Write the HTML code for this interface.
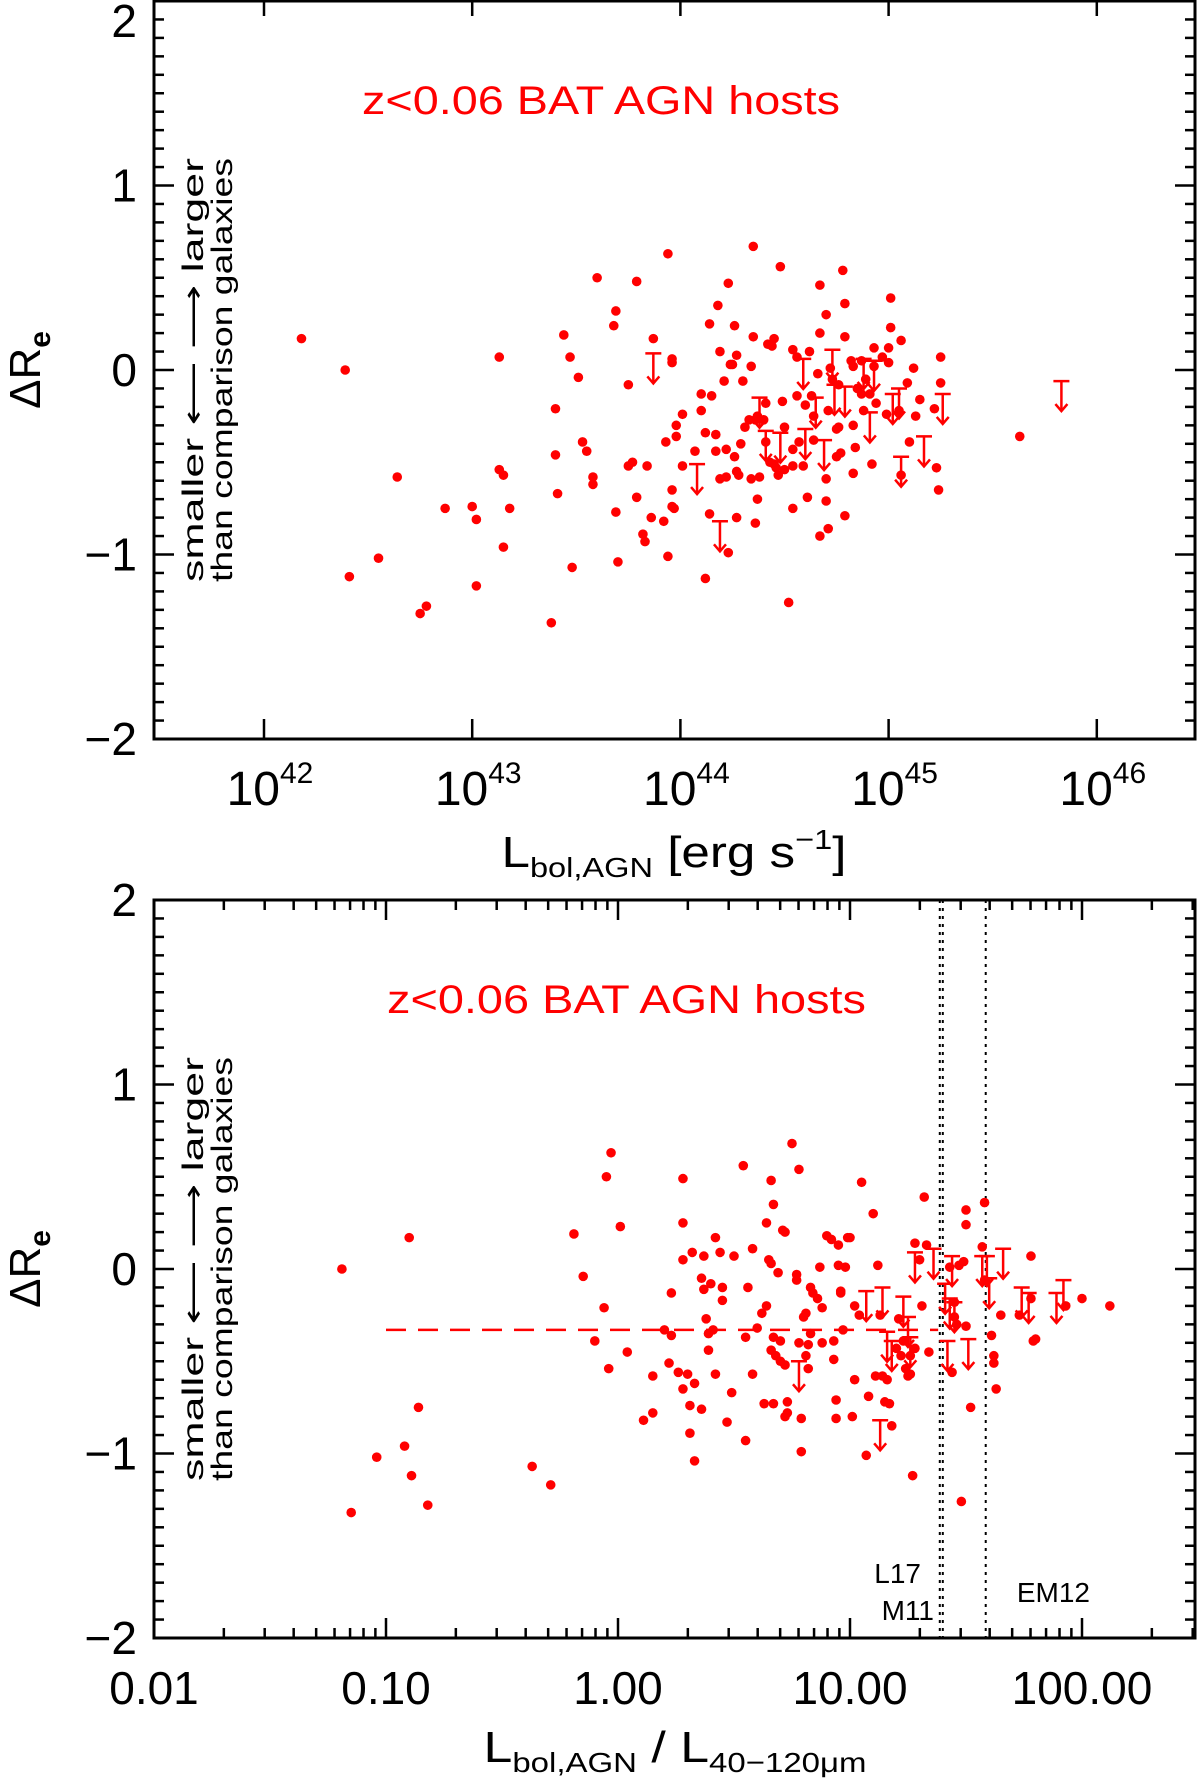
<!DOCTYPE html>
<html><head><meta charset="utf-8"><style>
html,body{margin:0;padding:0;background:#fff;}
svg{display:block;}
text{font-family:"Liberation Sans",sans-serif;}
</style></head><body>
<svg id="fig" width="1200" height="1779" viewBox="0 0 1200 1779" xmlns="http://www.w3.org/2000/svg"></svg>
<script>
// ===== Top panel data: log10 L_bol,AGN and Delta R_e =====
const topLogL = [42.18,42.39,42.41,42.55,42.64,42.75,42.78,42.87,43.00,43.02,43.02,43.13,43.13,43.15,43.15,43.18,43.38,43.40,43.40,43.41,43.44,43.47,43.51,43.48,43.53,43.55,43.58,43.58,43.60,43.68,43.69,43.69,43.70,43.75,43.75,43.77,43.79,43.79,43.82,43.83,43.84,43.86,43.87,43.92,43.93,43.94,43.94,43.96,43.96,43.96,43.96,43.97,43.98,43.98,44.01,44.01,44.07,44.10,44.10,44.12,44.12,44.14,44.14,44.15,44.17,44.17,44.18,44.19,44.19,44.21,44.22,44.22,44.23,44.24,44.23,44.25,44.26,44.26,44.27,44.27,44.27,44.28,44.29,44.30,44.31,44.33,44.34,44.34,44.35,44.35,44.36,44.36,44.37,44.37,44.38,44.40,44.41,44.41,44.42,44.43,44.44,44.45,44.45,44.46,44.47,44.48,44.49,44.50,44.50,44.52,44.54,44.54,44.54,44.54,44.56,44.56,44.57,44.59,44.60,44.61,44.62,44.63,44.64,44.64,44.66,44.67,44.67,44.67,44.70,44.70,44.70,44.71,44.71,44.72,44.73,44.75,44.75,44.76,44.76,44.77,44.78,44.79,44.79,44.79,44.82,44.83,44.83,44.83,44.84,44.85,44.87,44.87,44.88,44.89,44.91,44.92,44.93,44.93,44.94,44.97,44.99,45.00,45.00,45.01,45.01,45.05,45.06,45.06,45.09,45.10,45.12,45.13,45.15,45.22,45.23,45.24,45.25,45.25,45.63];
const topDRe = [0.17,0.00,-1.12,-1.02,-0.58,-1.32,-1.28,-0.75,-0.74,-0.81,-1.17,0.07,-0.54,-0.57,-0.96,-0.75,-1.37,-0.21,-0.46,-0.67,0.19,0.07,-0.04,-1.07,-0.39,-0.44,-0.58,-0.62,0.50,0.24,0.32,-0.77,-1.04,-0.08,-0.52,-0.50,0.48,-0.69,-0.89,-0.93,-0.52,-0.80,0.17,-0.82,-0.39,-1.01,0.63,0.06,0.04,-0.65,-0.74,-0.75,-0.30,-0.36,-0.52,-0.24,-0.44,-0.13,-0.22,-0.34,-1.13,0.25,-0.78,-0.14,-0.35,-0.44,0.35,0.10,-0.59,-0.06,-0.43,-0.58,0.47,0.03,-0.99,0.03,-0.47,0.24,-0.80,0.08,-0.55,-0.57,-0.40,-0.06,-0.31,-0.27,0.02,-0.59,0.67,0.18,-0.27,-0.83,-0.70,-0.25,-0.58,-0.27,-0.39,-0.18,0.14,-0.50,0.13,0.17,-0.51,-0.53,-0.57,0.56,-0.17,-0.31,-0.54,-1.26,-0.43,-0.52,0.11,-0.75,0.07,-0.14,-0.39,-0.52,-0.19,-0.69,0.10,-0.14,-0.25,-0.38,-0.02,-0.90,0.20,0.46,0.30,-0.71,-0.59,-0.86,-0.22,0.01,-0.05,-0.47,-0.32,-0.31,-0.08,-0.45,0.54,0.36,-0.79,0.18,0.05,0.02,-0.56,-0.30,-0.42,-0.10,0.05,-0.13,-0.22,-0.05,-0.13,-0.51,0.02,0.12,-0.18,0.07,-0.24,0.04,0.12,0.39,0.23,-0.22,0.16,-0.57,-0.07,-0.39,0.01,-0.25,-0.16,-0.21,-0.53,-0.65,-0.07,0.07,-0.36];
const topLimLogL = [43.87,44.08,44.19,44.38,44.41,44.48,44.59,44.60,44.65,44.69,44.73,44.74,44.79,44.88,44.93,44.91,45.02,45.05,45.06,45.17,45.26,45.83];
const topLimDRe = [0.09,-0.51,-0.82,-0.15,-0.33,-0.34,0.06,-0.32,-0.15,-0.38,0.11,-0.08,-0.09,0.06,0.05,-0.23,-0.13,-0.10,-0.47,-0.36,-0.13,-0.06];
const topXTicks = [42,43,44,45,46];
const yTicks = [-2,-1,0,1,2];

// ===== Bottom panel data: log10 (L_bol,AGN / L_40-120um) and Delta R_e =====
const botLogR = [-1.19,-1.15,-1.04,-0.92,-0.90,-0.89,-0.86,-0.82,-0.37,-0.29,-0.19,-0.15,-0.10,-0.06,-0.05,-0.04,-0.03,0.01,0.04,0.11,0.15,0.15,0.20,0.22,0.23,0.23,0.26,0.28,0.28,0.28,0.28,0.30,0.31,0.31,0.32,0.33,0.33,0.36,0.36,0.37,0.37,0.38,0.39,0.39,0.40,0.41,0.42,0.42,0.44,0.45,0.45,0.47,0.49,0.50,0.54,0.55,0.55,0.56,0.58,0.58,0.60,0.62,0.63,0.64,0.64,0.65,0.66,0.66,0.66,0.67,0.67,0.67,0.68,0.69,0.70,0.70,0.71,0.72,0.72,0.72,0.73,0.73,0.75,0.77,0.77,0.78,0.78,0.79,0.79,0.80,0.81,0.81,0.82,0.82,0.83,0.83,0.84,0.86,0.87,0.88,0.88,0.90,0.92,0.93,0.93,0.94,0.94,0.95,0.95,0.96,0.96,0.97,0.98,0.99,1.00,1.01,1.02,1.02,1.04,1.05,1.07,1.08,1.10,1.11,1.12,1.13,1.14,1.15,1.16,1.17,1.18,1.20,1.21,1.22,1.23,1.24,1.25,1.26,1.26,1.27,1.28,1.28,1.30,1.31,1.32,1.33,1.34,1.43,1.44,1.45,1.45,1.46,1.47,1.48,1.49,1.50,1.50,1.50,1.52,1.57,1.58,1.58,1.61,1.62,1.62,1.63,1.65,1.73,1.78,1.78,1.79,1.80,1.93,2.00,2.12];
const botDRe = [0.00,-1.32,-1.02,-0.96,0.17,-1.12,-0.75,-1.28,-1.07,-1.17,0.19,-0.04,-0.39,-0.21,0.50,-0.54,0.63,0.23,-0.45,-0.82,-0.78,-0.58,-0.33,-0.51,-0.36,-0.13,-0.56,-0.65,0.49,0.25,0.05,-0.57,-0.74,-0.89,0.09,-0.62,-1.04,-0.05,-0.76,0.07,-0.11,-0.27,-0.44,-0.35,-0.08,-0.33,0.17,-0.57,0.09,-0.17,-0.10,-0.83,-0.67,0.07,0.56,-0.37,-0.93,-0.10,0.11,-0.57,-0.32,-0.24,-0.73,0.25,-0.20,0.05,0.48,-0.44,0.03,0.35,-0.73,-0.37,-0.47,-0.02,-0.39,-0.50,0.21,0.20,-0.52,-0.80,-0.78,-0.72,0.68,-0.03,-0.06,-0.40,0.54,-0.81,-0.99,-0.26,-0.24,-0.47,-0.41,-0.54,-0.35,-0.10,-0.13,-0.16,0.01,-0.40,-0.21,0.18,0.16,-0.39,-0.49,-0.71,-0.81,0.02,0.13,-0.13,-0.12,-0.33,0.01,0.17,0.17,-0.80,-0.60,-0.20,-0.25,0.47,-1.01,-0.69,0.30,-0.58,0.02,-0.25,-0.58,-0.72,-0.60,-0.73,-0.85,-0.43,-0.27,-0.47,-0.39,-0.54,-0.58,-0.47,-0.57,-1.12,0.14,-0.43,0.05,-0.20,0.39,0.13,-0.45,0.01,-0.56,-0.18,-0.26,-0.30,0.02,-1.26,0.04,0.32,0.24,-0.31,-0.75,0.12,0.36,-0.06,-0.36,-0.47,-0.51,-0.65,-0.25,-0.25,0.07,-0.16,-0.39,-0.38,-0.20,-0.16,-0.20];
const botLimLogR = [0.78,1.07,1.13,1.14,1.16,1.18,1.23,1.25,1.26,1.28,1.36,1.41,1.42,1.44,1.43,1.45,1.51,1.57,1.60,1.59,1.66,1.74,1.77,1.89,1.92];
const botLimDRe = [-0.50,-0.12,-0.82,-0.10,-0.34,-0.39,-0.15,-0.26,-0.37,0.09,0.11,-0.08,-0.39,0.07,-0.16,-0.18,-0.38,0.07,-0.05,0.07,0.11,-0.10,-0.13,-0.13,-0.06];
const botXTicks = [-2,-1,0,1,2];
const botXTickLabels = ["0.01","0.10","1.00","10.00","100.00"];
const medianDRe = -0.33;
const medianRange = [-1, 1.38];
const refLines = [1.387, 1.40, 1.585];

// ===== Layout =====
const NS = "http://www.w3.org/2000/svg";
const svg = document.getElementById('fig');
const L = 154, R = 1195;
const RED = "#ff0000";
function el(tag, attrs, parent){ const e=document.createElementNS(NS,tag); for(const k in attrs) e.setAttribute(k,attrs[k]); (parent||svg).appendChild(e); return e; }

const xTop = l => 264 + (l-42)*208.2;
const xBot = l => 618 + l*232;
function yFn(top){ const zero = top + 369; return v => zero - v*184.5; }
const yT = yFn(1), yB = yFn(900);

function drawFrame(g, top, bottom){
  const f = el('rect',{x:L,y:top,width:R-L,height:bottom-top,fill:'none',stroke:'#000','stroke-width':3},g);
  
  
}
function drawYAxis(g, yf, top, bottom){
  for(let i=-20;i<=20;i++){
    const v=i/10, y=yf(v);
    if(y<top-1||y>bottom+1) continue;
    const major = (i%10===0);
    const len = major?20:10;
    el('line',{x1:L,y1:y,x2:L+len,y2:y,stroke:'#000','stroke-width':2.5},g);
    el('line',{x1:R,y1:y,x2:R-len,y2:y,stroke:'#000','stroke-width':2.5},g);
  }
  yTicks.forEach(v=>{
    let ly = yf(v)+16;
    if (ly < 37) ly = 37;
    const t=el('text',{x:137,y:ly,'text-anchor':'end','font-size':46,fill:'#000'},g);
    t.textContent = v<0 ? '\u2212'+Math.abs(v) : String(v);
    
    
  });
  const ty=(top+bottom)/2;
  const tt=el('text',{x:0,y:0,'text-anchor':'middle','font-size':44,fill:'#000',transform:`translate(40,${ty}) rotate(-90)`},g);
  tt.innerHTML='\u0394R<tspan font-size="30" dy="10" font-weight="bold">e</tspan>';
  
  
  const n1=el('text',{x:0,y:0,'text-anchor':'middle','font-size':30,fill:'#000',textLength:424,lengthAdjust:'spacingAndGlyphs',transform:`translate(203,${ty}) rotate(-90)`},g);
  n1.textContent='smaller  \u27F5     \u27F6  larger';
  
  
  const n2=el('text',{x:0,y:0,'text-anchor':'middle','font-size':30,fill:'#000',textLength:424,lengthAdjust:'spacingAndGlyphs',transform:`translate(232,${ty}) rotate(-90)`},g);
  n2.textContent='than comparison galaxies';
  
  
}
function dots(g, xs, ys, xf, yf, name){
  xs.forEach((l,i)=>{
    const c=el('circle',{cx:xf(l),cy:yf(ys[i]),r:4.8,fill:RED},g);
    
    
  });
}
function limits(g, xs, ys, xf, yf, name){
  xs.forEach((l,i)=>{
    const x=xf(l), y=yf(ys[i]);
    const a=el('g',{stroke:RED,'stroke-width':2.5,fill:'none'},g);
    
    
    el('line',{x1:x-8,y1:y,x2:x+8,y2:y},a);
    el('line',{x1:x,y1:y,x2:x,y2:y+30},a);
    el('polyline',{points:`${x-6},${y+23} ${x},${y+30} ${x+6},${y+23}`},a);
  });
}

// ===== Top panel =====
const gT = el('g',{});


drawFrame(gT,1,739);
drawYAxis(gT,yT,1,739);
topXTicks.forEach(l=>{
  const x=xTop(l);
  el('line',{x1:x,y1:739,x2:x,y2:719,stroke:'#000','stroke-width':2.5},gT);
  el('line',{x1:x,y1:1,x2:x,y2:16,stroke:'#000','stroke-width':2.5},gT);
  const t=el('text',{x:x+6,y:805,'text-anchor':'middle','font-size':48,fill:'#000'},gT);
  t.innerHTML='10<tspan font-size="30" dy="-22">'+l+'</tspan>';
  
  
});
{
  const t=el('text',{x:674,y:867,'text-anchor':'middle','font-size':44,fill:'#000',textLength:345,lengthAdjust:'spacingAndGlyphs'},gT);
  t.innerHTML='L<tspan font-size="28" dy="10">bol,AGN</tspan><tspan dy="-10"> [erg s</tspan><tspan font-size="28" dy="-18">\u22121</tspan><tspan dy="18">]</tspan>';
  
  
  const s=el('text',{x:362,y:114,'font-size':40,fill:RED,textLength:478,lengthAdjust:'spacingAndGlyphs'},gT);
  s.textContent='z<0.06 BAT AGN hosts';
  
  
}
dots(gT,topLogL,topDRe,xTop,yT,'agn-point');
limits(gT,topLimLogL,topLimDRe,xTop,yT,'upper-limit-arrow');

// ===== Bottom panel =====
const gB = el('g',{});


drawFrame(gB,900,1638);
drawYAxis(gB,yB,900,1638);
for(let d=-2; d<=2; d++){
  for(let m=1;m<=9;m++){
    const l=d+Math.log10(m), x=xBot(l);
    if(x<L||x>R) continue;
    const len = m===1?20:10;
    el('line',{x1:x,y1:1638,x2:x,y2:1638-len,stroke:'#000','stroke-width':2.5},gB);
    el('line',{x1:x,y1:900,x2:x,y2:900+len,stroke:'#000','stroke-width':2.5},gB);
  }
}
botXTicks.forEach((l,i)=>{
  const t=el('text',{x:xBot(l),y:1704,'text-anchor':'middle','font-size':46,fill:'#000'},gB);
  t.textContent=botXTickLabels[i];
  
  
});
{
  const t=el('text',{x:675,y:1762,'text-anchor':'middle','font-size':44,fill:'#000',textLength:383,lengthAdjust:'spacingAndGlyphs'},gB);
  t.innerHTML='L<tspan font-size="28" dy="10">bol,AGN</tspan><tspan dy="-10">  /  L</tspan><tspan font-size="28" dy="10">40\u2212120\u03BCm</tspan>';
  
  
  const s=el('text',{x:387,y:1013,'font-size':40,fill:RED,textLength:479,lengthAdjust:'spacingAndGlyphs'},gB);
  s.textContent='z<0.06 BAT AGN hosts';
  
  
}
refLines.forEach(l=>{
  const ln=el('line',{x1:xBot(l),y1:900,x2:xBot(l),y2:1638,stroke:'#000','stroke-width':2,'stroke-dasharray':'3,5'},gB);
  
  
});
[['L17',921,1583],['M11',934,1620],['EM12',1090,1602]].forEach(([s,x,y])=>{
  const t=el('text',{x:x,y:y,'text-anchor':'end','font-size':28,fill:'#000'},gB);
  t.textContent=s;
  
  
});
{
  const m=el('line',{x1:xBot(medianRange[0]),y1:yB(medianDRe),x2:xBot(medianRange[1]),y2:yB(medianDRe),stroke:RED,'stroke-width':2.5,'stroke-dasharray':'20,12'},gB);
  
  
}
dots(gB,botLogR,botDRe,xBot,yB,'agn-point');
limits(gB,botLimLogR,botLimDRe,xBot,yB,'upper-limit-arrow');
</script>
</body></html>
